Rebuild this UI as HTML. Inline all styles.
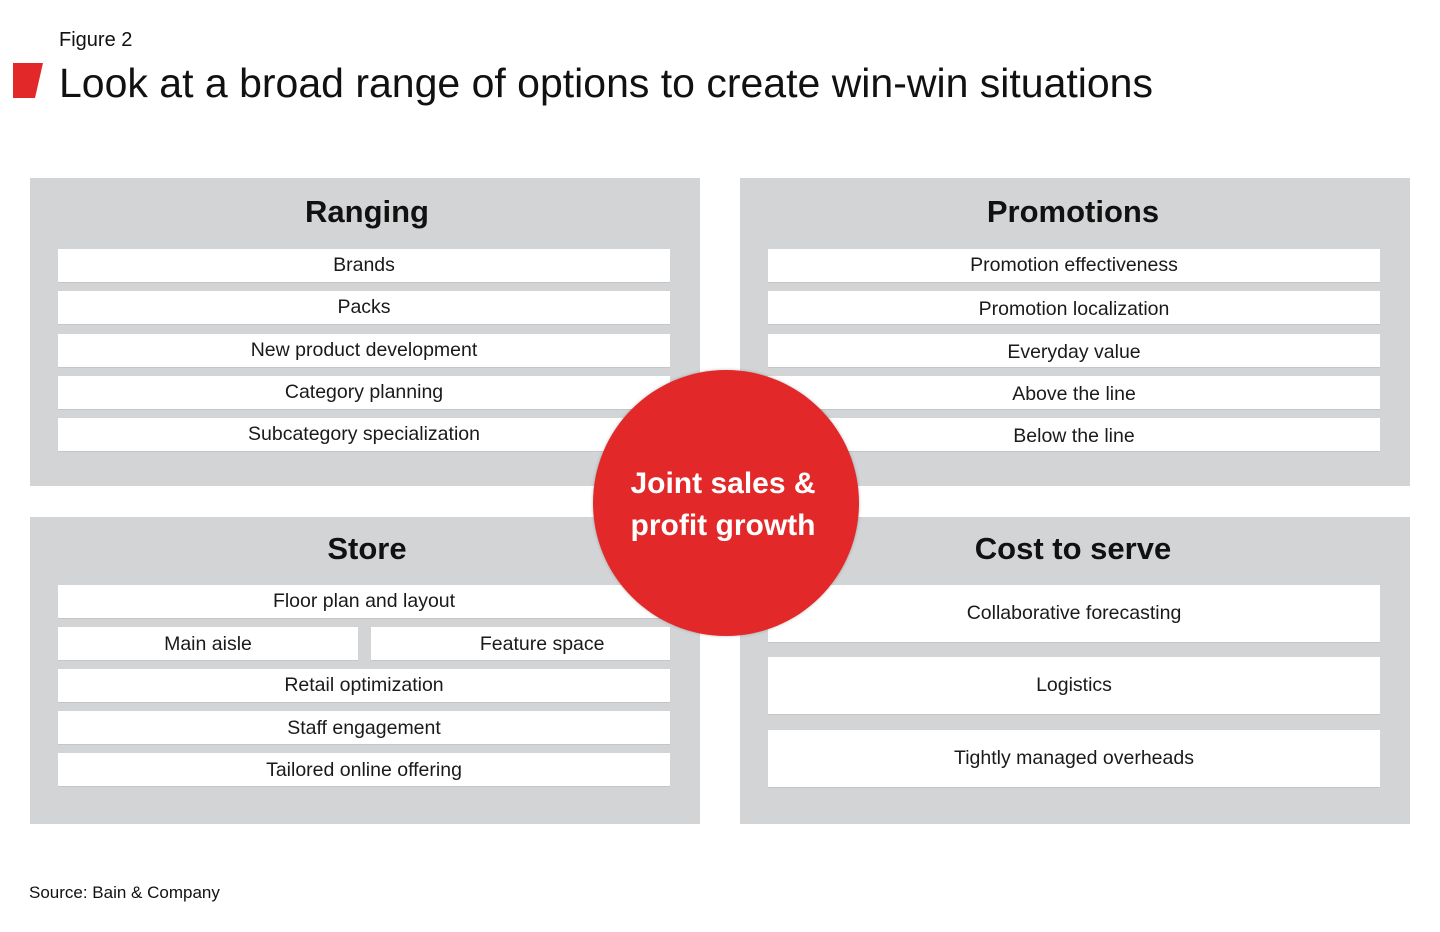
<!DOCTYPE html>
<html><head><meta charset="utf-8"><style>
body{margin:0;width:1440px;height:932px;background:#fff;font-family:"Liberation Sans",sans-serif;position:relative;overflow:hidden;color:#111}
.a{position:absolute}
.p{position:absolute;background:#d3d4d6}
.r{position:absolute;background:#fff;text-align:center;font-size:19.5px;color:#1a1a1a;box-shadow:0 1px 0 #c4c5c7}
.h{position:absolute;text-align:center;font-weight:bold;font-size:31px;color:#111}
</style></head><body>
<div class="a" style="left:59px;top:29px;font-size:20px">Figure 2</div>
<svg class="a" style="left:0;top:0" width="60" height="110"><polygon points="13,63 43,63 35,98 13,98" fill="#e22828"/></svg>
<div class="a" style="left:59px;top:60px;font-size:41px">Look at a broad range of options to create win-win situations</div>

<div class="p" style="left:30px;top:178px;width:670px;height:308px"></div>
<div class="p" style="left:740px;top:178px;width:670px;height:308px"></div>
<div class="p" style="left:30px;top:517px;width:670px;height:307px"></div>
<div class="p" style="left:740px;top:517px;width:670px;height:307px"></div>

<div class="h" style="left:32px;width:670px;top:194px">Ranging</div>
<div class="h" style="left:738px;width:670px;top:194px">Promotions</div>
<div class="h" style="left:32px;width:670px;top:531px">Store</div>
<div class="h" style="left:738px;width:670px;top:531px">Cost to serve</div>

<div class="r" style="left:58px;width:612px;top:249px;height:33px;line-height:33px">Brands</div>
<div class="r" style="left:58px;width:612px;top:291px;height:33px;line-height:33px">Packs</div>
<div class="r" style="left:58px;width:612px;top:334px;height:33px;line-height:33px">New product development</div>
<div class="r" style="left:58px;width:612px;top:376px;height:33px;line-height:33px">Category planning</div>
<div class="r" style="left:58px;width:612px;top:418px;height:33px;line-height:33px">Subcategory specialization</div>

<div class="r" style="left:768px;width:612px;top:249px;height:33px;line-height:33px">Promotion effectiveness</div>
<div class="r" style="left:768px;width:612px;top:291px;height:33px;line-height:37px">Promotion localization</div>
<div class="r" style="left:768px;width:612px;top:334px;height:33px;line-height:37px">Everyday value</div>
<div class="r" style="left:768px;width:612px;top:376px;height:33px;line-height:37px">Above the line</div>
<div class="r" style="left:768px;width:612px;top:418px;height:33px;line-height:37px">Below the line</div>

<div class="r" style="left:58px;width:612px;top:585px;height:33px;line-height:33px">Floor plan and layout</div>
<div class="r" style="left:58px;width:300px;top:627px;height:33px;line-height:35px">Main aisle</div>
<div class="r" style="left:371px;width:299px;top:627px;height:33px;line-height:35px">&nbsp;&nbsp;&nbsp;&nbsp;&nbsp;&nbsp;&nbsp;&nbsp;Feature space</div>
<div class="r" style="left:58px;width:612px;top:669px;height:33px;line-height:33px">Retail optimization</div>
<div class="r" style="left:58px;width:612px;top:711px;height:33px;line-height:35px">Staff engagement</div>
<div class="r" style="left:58px;width:612px;top:753px;height:33px;line-height:35px">Tailored online offering</div>

<div class="r" style="left:768px;width:612px;top:585px;height:57px;line-height:57px">Collaborative forecasting</div>
<div class="r" style="left:768px;width:612px;top:657px;height:57px;line-height:57px">Logistics</div>
<div class="r" style="left:768px;width:612px;top:730px;height:57px;line-height:57px">Tightly managed overheads</div>

<div class="a" style="left:593px;top:370px;width:266px;height:266px;border-radius:50%;background:#e22828;box-shadow:0 0 3px rgba(0,0,0,.25)"></div>
<div class="a" style="left:590px;top:463px;width:266px;text-align:center;color:#fff;font-weight:bold;font-size:30px;line-height:42px">Joint sales &amp;<br>profit growth</div>

<div class="a" style="left:29px;top:883px;font-size:17px">Source: Bain &amp; Company</div>
</body></html>
